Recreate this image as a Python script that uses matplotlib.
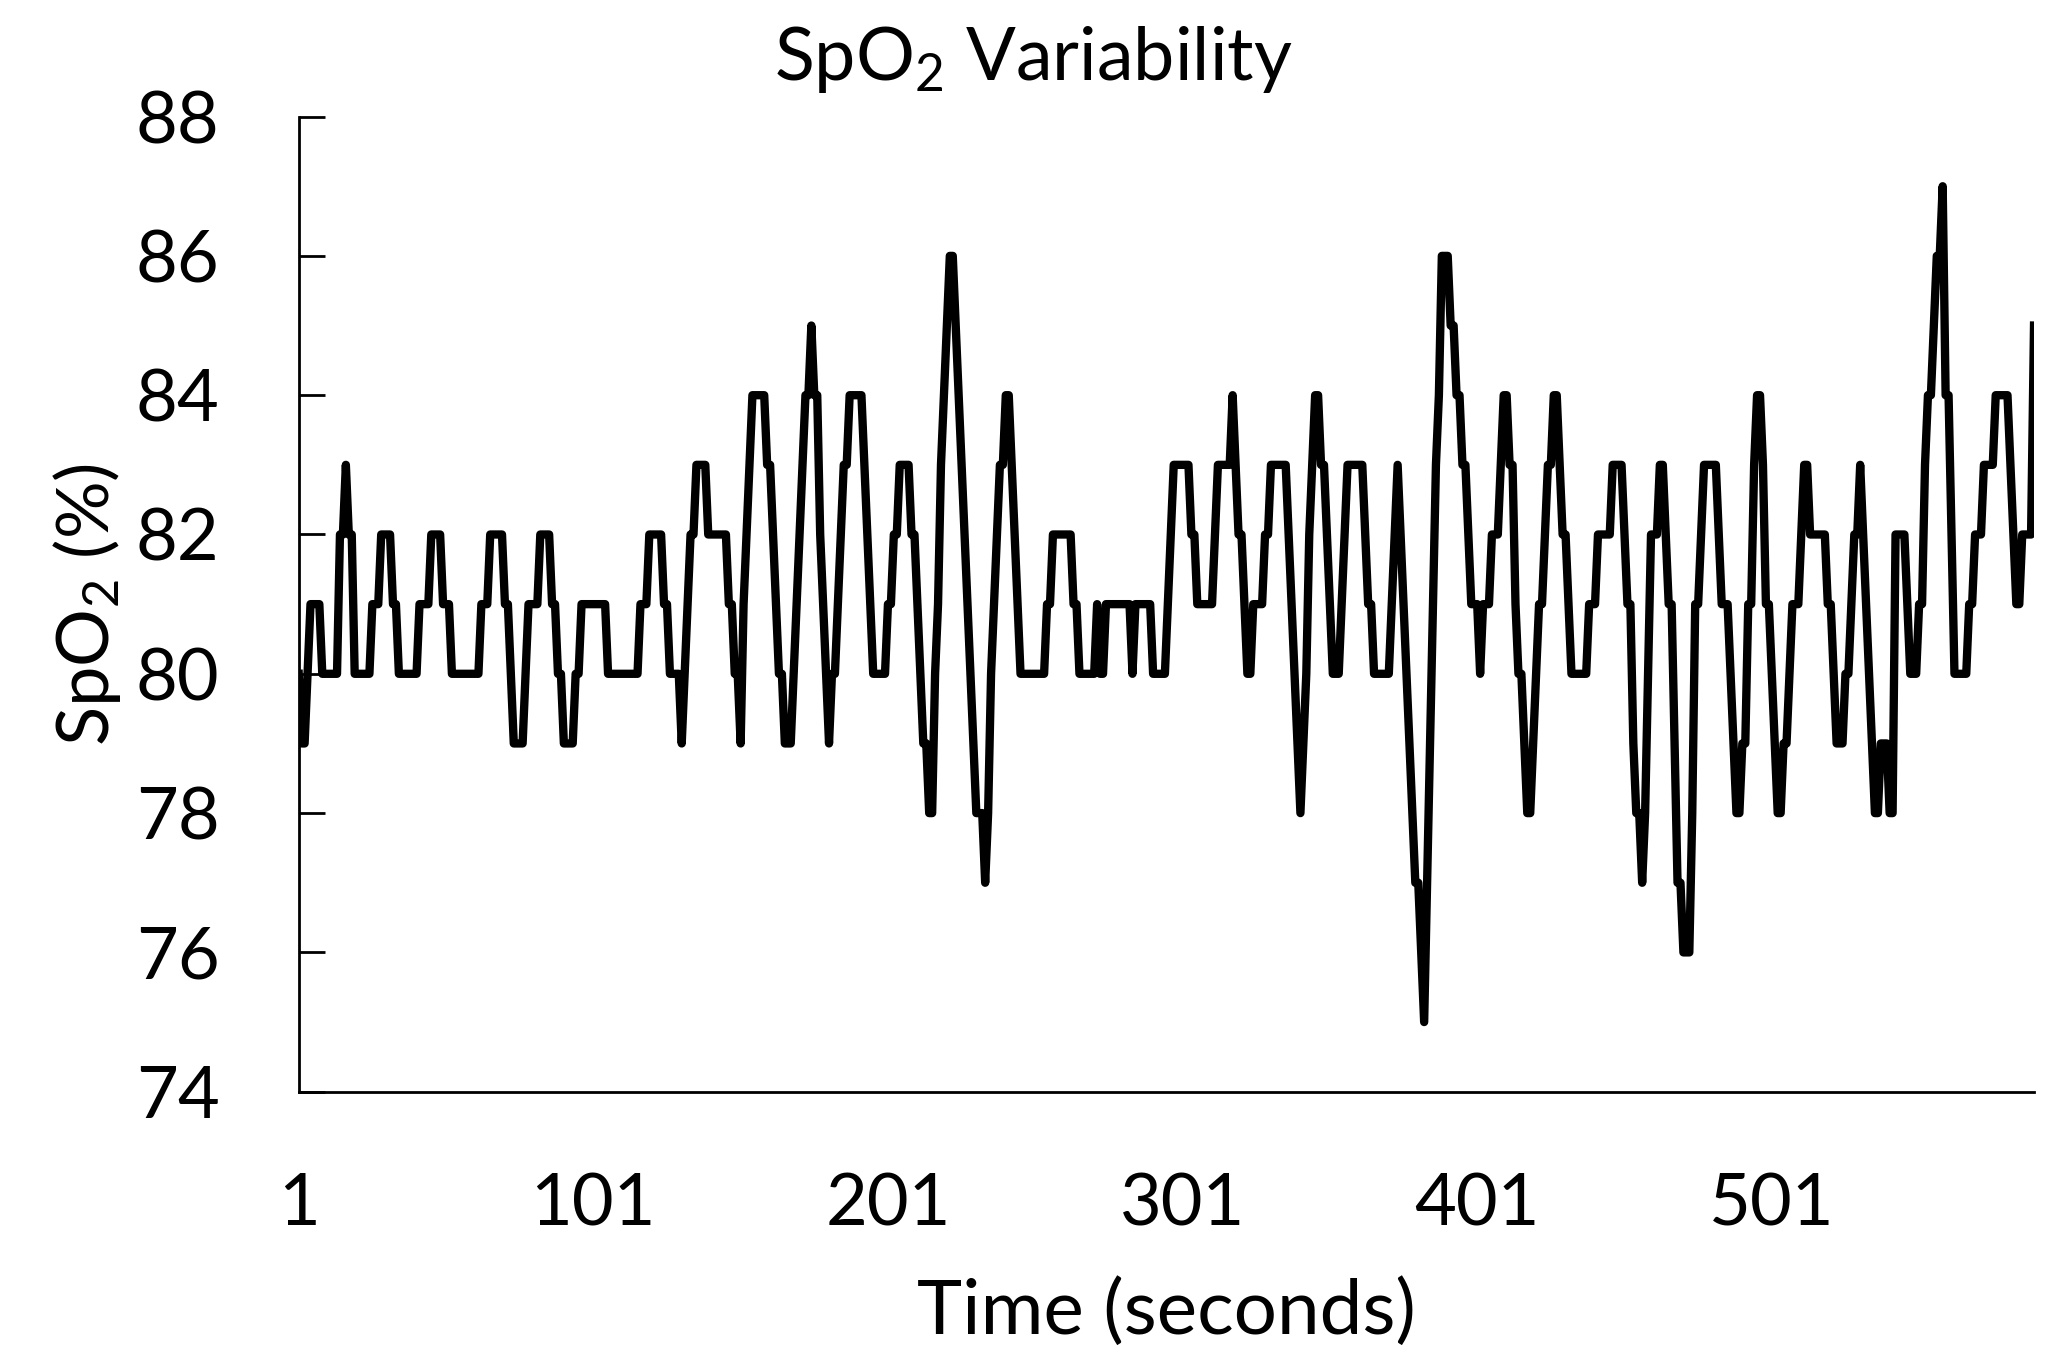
import numpy as np
import matplotlib
matplotlib.use('Agg')
import matplotlib.pyplot as plt

# SpO2 readings (one per second), stored as runs of equal value
spo2_levels = [80, 79, 80, 81, 80, 82, 83, 82, 80, 81, 82, 81, 80, 81, 82, 81, 80, 81, 82, 81,
               80, 79, 80, 81, 82, 81, 80, 79, 80, 81, 80, 81, 82, 81, 80, 79, 80, 81, 82, 83,
               82, 81, 80, 79, 81, 82, 83, 84, 83, 82, 81, 80, 79, 80, 81, 82, 83, 84, 85, 84,
               82, 81, 80, 79, 80, 81, 82, 83, 84, 83, 82, 81, 80, 81, 82, 83, 82, 81, 80, 79,
               78, 80, 81, 83, 84, 85, 86, 85, 84, 83, 82, 81, 80, 79, 78, 77, 78, 80, 81, 82,
               83, 84, 83, 82, 81, 80, 81, 82, 81, 80, 81, 80, 81, 80, 81, 80, 81, 82, 83, 82,
               81, 82, 83, 84, 83, 82, 81, 80, 81, 82, 83, 82, 81, 80, 79, 78, 79, 80, 82, 83,
               84, 83, 82, 81, 80, 81, 82, 83, 82, 81, 80, 81, 82, 83, 82, 81, 80, 79, 78, 77,
               76, 75, 77, 79, 81, 83, 84, 86, 85, 84, 83, 82, 81, 80, 81, 82, 83, 84, 83, 81,
               80, 79, 78, 79, 80, 81, 82, 83, 84, 83, 82, 81, 80, 81, 82, 83, 82, 81, 79, 78,
               77, 78, 80, 82, 83, 82, 81, 79, 77, 76, 78, 81, 82, 83, 82, 81, 80, 79, 78, 79,
               81, 83, 84, 83, 81, 80, 79, 78, 79, 80, 81, 82, 83, 82, 81, 80, 79, 80, 81, 82,
               83, 82, 81, 80, 79, 78, 79, 78, 82, 81, 80, 81, 83, 84, 85, 86, 87, 84, 82, 80,
               81, 82, 83, 84, 83, 82, 81, 82, 85]
spo2_durations = [1, 2, 1, 4, 6, 2, 1, 2, 6, 3, 4, 2, 7, 4, 4, 3, 10, 3, 5, 2,
                  1, 4, 1, 4, 4, 2, 2, 4, 2, 9, 11, 3, 5, 2, 4, 1, 1, 1, 2, 4,
                  7, 2, 2, 1, 1, 1, 1, 5, 2, 1, 1, 2, 3, 1, 1, 1, 1, 2, 1, 2,
                  1, 1, 1, 1, 2, 1, 1, 2, 5, 1, 1, 1, 5, 2, 2, 4, 2, 1, 1, 2,
                  2, 1, 1, 1, 1, 1, 2, 1, 1, 1, 1, 1, 1, 1, 3, 1, 1, 1, 1, 1,
                  2, 2, 1, 1, 1, 9, 2, 7, 2, 6, 1, 2, 9, 1, 6, 5, 1, 1, 6, 2,
                  6, 1, 5, 1, 1, 2, 1, 2, 4, 2, 6, 1, 1, 1, 1, 1, 1, 1, 1, 1,
                  2, 2, 1, 1, 3, 1, 1, 6, 1, 2, 6, 1, 1, 1, 1, 1, 1, 1, 1, 2,
                  1, 1, 1, 1, 1, 1, 1, 3, 2, 2, 2, 1, 3, 1, 3, 3, 1, 2, 2, 1,
                  2, 1, 2, 1, 1, 2, 1, 2, 2, 1, 2, 1, 6, 3, 5, 4, 1, 2, 1, 2,
                  1, 1, 1, 3, 2, 1, 2, 1, 2, 3, 1, 2, 1, 5, 1, 3, 1, 1, 2, 2,
                  2, 1, 2, 1, 2, 1, 1, 2, 2, 1, 3, 1, 2, 6, 2, 1, 3, 2, 1, 2,
                  1, 1, 1, 1, 1, 2, 3, 2, 4, 1, 3, 2, 1, 2, 1, 2, 1, 2, 1, 5,
                  2, 3, 4, 5, 1, 1, 2, 4, 1]

x_tick_values = [1, 101, 201, 301, 401, 501]
x_tick_labels = ['1', '101', '201', '301', '401', '501']
y_tick_values = [74, 76, 78, 80, 82, 84, 86, 88]

spo2 = np.repeat(spo2_levels, spo2_durations)
seconds = np.arange(1, len(spo2) + 1)

plt.rcParams['font.family'] = ['Lato', 'DejaVu Sans']
plt.rcParams['mathtext.fontset'] = 'custom'
plt.rcParams['mathtext.rm'] = 'Lato'
plt.rcParams['mathtext.default'] = 'regular'

fig = plt.figure(figsize=(20.54, 13.52), dpi=100)
ax = fig.add_axes([0.14543, 0.19253, 0.84484, 0.72123])

ax.plot(seconds, spo2, color='black', lw=6.0, solid_joinstyle='round')

ax.set_xlim(1, len(spo2))
ax.set_ylim(74, 88)
ax.set_xticks(x_tick_values)
ax.set_xticklabels(x_tick_labels)
ax.set_yticks(y_tick_values)

for s in ['top', 'right']:
    ax.spines[s].set_visible(False)
for s in ['left', 'bottom']:
    ax.spines[s].set_linewidth(2)

ax.tick_params(axis='y', direction='in', length=18.7, width=2, pad=57, labelsize=52)
ax.tick_params(axis='x', length=0, pad=58, labelsize=52)

ax.set_xlabel('Time (seconds)', fontsize=55, va='center')
ax.xaxis.set_label_coords(0.5, -0.226)
ax.set_ylabel('SpO$_2$ (%)', fontsize=52, va='center')
ax.yaxis.set_label_coords(-0.122, 0.5)

fig.text(0.5032, 0.956, 'SpO$_2$ Variability', ha='center', va='center', fontsize=53)

fig.savefig('out.png', dpi=100)
